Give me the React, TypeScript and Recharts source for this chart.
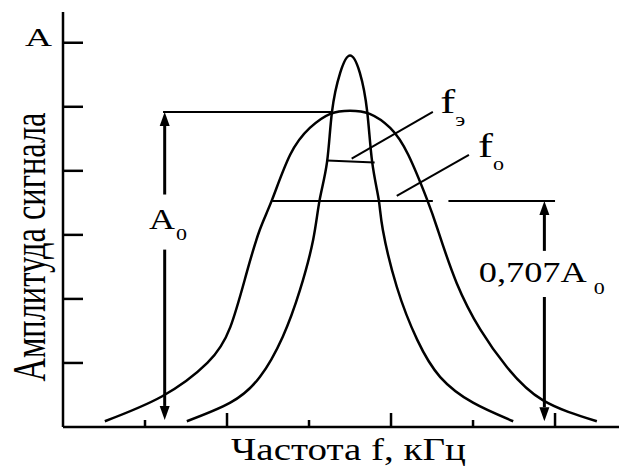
import React from 'react';
import { ComposedChart, Line, XAxis, YAxis, ReferenceLine, ReferenceDot, Label } from 'recharts';

// axis ticks (relative units)
const freqTicks = [1, 2, 3, 4, 5, 6];
const majorFreqTicks = [2, 4, 6];
const ampTicks = [1, 2, 3, 4, 5, 6];
const ampTickLabels = ['', '', '', '', '', 'A'];

// wide response curve (f_o)
const wideFreq = [0.51, 1.21, 1.76, 2.04, 2.24, 2.4, 2.55, 2.77, 3.01, 3.26, 3.5, 3.74, 3.99, 4.21, 4.44, 4.57, 4.8, 5.09, 5.41, 5.85, 6.51];
const wideAmp = [0.09, 0.48, 1.0, 1.56, 2.41, 3.08, 3.55, 4.25, 4.67, 4.89, 4.94, 4.89, 4.67, 4.25, 3.55, 3.08, 2.25, 1.52, 0.94, 0.42, 0.09];

// narrow response curve (f_э)
const narrowFreq = [1.51, 2.04, 2.4, 2.68, 2.89, 3.05, 3.13, 3.22, 3.28, 3.38, 3.5, 3.62, 3.71, 3.77, 3.85, 3.9, 4.07, 4.32, 4.6, 5.0, 5.49];
const narrowAmp = [0.09, 0.38, 0.78, 1.41, 2.14, 2.92, 3.55, 4.14, 4.92, 5.53, 5.8, 5.53, 4.92, 4.14, 3.55, 3.08, 2.19, 1.36, 0.78, 0.38, 0.09];

// annotation levels
const levelA0 = 4.92;
const level707 = 3.53;
const a0ArrowX = 1.24;
const a0Span = [1.22, 3.28];
const a0ArrowBreak = [3.63, 2.77, 0.11];
const level707Spans = [[2.55, 4.51], [4.7, 6.0]];
const rightArrowX = 5.87;
const rightArrowBreak = [2.75, 2.03, 0.09];
const feBar = [[3.22, 4.16], [3.8, 4.13]];
const feLeader = [[3.52, 4.19], [4.51, 4.92]];
const foLeader = [[4.07, 3.61], [4.95, 4.25]];

const wideData = wideFreq.map((freq, i) => ({ freq, amp: wideAmp[i] }));
const narrowData = narrowFreq.map((freq, i) => ({ freq, amp: narrowAmp[i] }));

const FONT = 'Liberation Serif, serif';

const Arrow = (props: any) => {
  const { x1, y1, x2, y2 } = props;
  const len = Math.hypot(x2 - x1, y2 - y1) || 1;
  const ux = (x2 - x1) / len;
  const uy = (y2 - y1) / len;
  const hl = 14;
  const hw = 5;
  const bx = x2 - ux * hl;
  const by = y2 - uy * hl;
  const pts = `${x2},${y2} ${bx - uy * hw},${by + ux * hw} ${bx + uy * hw},${by - ux * hw}`;
  return (
    <g>
      <line x1={x1} y1={y1} x2={bx} y2={by} stroke="#000" strokeWidth={3} />
      <polygon points={pts} fill="#000" />
    </g>
  );
};

// the source figure is stretched horizontally, so every text gets a fixed length
const subLabel = (
  main: string, sub: string, size: number, subSize: number,
  subDx: number, subDy: number, len: number, subLen: number,
) =>
  (p: any) => (
    <g>
      <text x={p.cx} y={p.cy} fontFamily={FONT} fontSize={size} fill="#000" textLength={len} lengthAdjust="spacingAndGlyphs">
        {main}
      </text>
      <text
        x={p.cx + subDx}
        y={p.cy + subDy}
        fontFamily={FONT}
        fontSize={subSize}
        fill="#000"
        textLength={subLen}
        lengthAdjust="spacingAndGlyphs"
      >
        {sub}
      </text>
    </g>
  );

const YTick = (p: any) => {
  const idx = ampTicks.indexOf(p.payload.value);
  const label = ampTickLabels[idx];
  return (
    <g>
      <line x1={p.x} y1={p.y} x2={p.x + 20} y2={p.y} stroke="#000" strokeWidth={2.5} />
      {label && (
        <text x={p.x - 38} y={p.y + 3} fontFamily={FONT} fontSize={26} fill="#000" textLength={27} lengthAdjust="spacingAndGlyphs">
          {label}
        </text>
      )}
    </g>
  );
};

const XTick = (p: any) => {
  const h = majorFreqTicks.includes(p.payload.value) ? 14 : 7;
  return <line x1={p.x} y1={p.y} x2={p.x} y2={p.y - h} stroke="#000" strokeWidth={2.5} />;
};

const seg = { stroke: '#000', strokeWidth: 2 };

export default function App() {
  return (
    <div style={{ position: 'absolute', left: 0, top: 0, background: '#fff' }}>
      <ComposedChart width={619} height={466} margin={{ top: 12, right: 0, bottom: 0, left: 0 }}>
        <XAxis
          type="number"
          dataKey="freq"
          domain={[0, 6.78]}
          ticks={freqTicks}
          allowDataOverflow
          height={39}
          tickSize={0}
          tickMargin={0}
          tickLine={false}
          tick={<XTick />}
          axisLine={{ stroke: '#000', strokeWidth: 2.5 }}
        >
          <Label
            content={(p: any) => (
              <text
                x={p.viewBox.x + 168}
                y={p.viewBox.y + 33}
                fontFamily={FONT}
                fontSize={31}
                fill="#000"
                textLength={235}
                lengthAdjust="spacingAndGlyphs"
              >
                Частота f, кГц
              </text>
            )}
          />
        </XAxis>
        <YAxis
          type="number"
          domain={[0, 6.48]}
          ticks={ampTicks}
          allowDataOverflow
          width={63}
          tickSize={0}
          tickMargin={0}
          tickLine={false}
          tick={<YTick />}
          axisLine={{ stroke: '#000', strokeWidth: 2.5 }}
        >
          <Label
            content={() => (
              <text
                x={45}
                y={247}
                transform="rotate(-90, 45, 247)"
                textAnchor="middle"
                fontFamily={FONT}
                fontSize={46}
                textLength={269}
                lengthAdjust="spacingAndGlyphs"
                fill="#000"
              >
                Амплитуда сигнала
              </text>
            )}
          />
        </YAxis>

        <Line data={wideData} dataKey="amp" type="natural" stroke="#000" strokeWidth={2.5} dot={false} isAnimationActive={false} />
        <Line data={narrowData} dataKey="amp" type="natural" stroke="#000" strokeWidth={2.5} dot={false} isAnimationActive={false} />

        {/* A0 level and arrow */}
        <ReferenceLine segment={[{ x: a0Span[0], y: levelA0 }, { x: a0Span[1], y: levelA0 }]} {...seg} />
        <ReferenceLine segment={[{ x: a0ArrowX, y: a0ArrowBreak[0] }, { x: a0ArrowX, y: levelA0 }]} shape={Arrow} />
        <ReferenceLine segment={[{ x: a0ArrowX, y: a0ArrowBreak[1] }, { x: a0ArrowX, y: a0ArrowBreak[2] }]} shape={Arrow} />
        <ReferenceDot x={1.05} y={3.09} r={0} shape={subLabel('A', '0', 29, 16, 27, 11, 26, 11)} />

        {/* 0,707 A0 level and arrow */}
        {level707Spans.map((s, i) => (
          <ReferenceLine key={i} segment={[{ x: s[0], y: level707 }, { x: s[1], y: level707 }]} {...seg} />
        ))}
        <ReferenceLine segment={[{ x: rightArrowX, y: rightArrowBreak[0] }, { x: rightArrowX, y: level707 }]} shape={Arrow} />
        <ReferenceLine segment={[{ x: rightArrowX, y: rightArrowBreak[1] }, { x: rightArrowX, y: rightArrowBreak[2] }]} shape={Arrow} />
        <ReferenceDot x={5.07} y={2.27} r={0} shape={subLabel('0,707A', '0', 29, 16, 115, 12, 108, 11)} />

        {/* bandwidth markers */}
        <ReferenceLine segment={[{ x: feBar[0][0], y: feBar[0][1] }, { x: feBar[1][0], y: feBar[1][1] }]} {...seg} />
        <ReferenceLine segment={[{ x: feLeader[0][0], y: feLeader[0][1] }, { x: feLeader[1][0], y: feLeader[1][1] }]} {...seg} />
        <ReferenceLine segment={[{ x: foLeader[0][0], y: foLeader[0][1] }, { x: foLeader[1][0], y: foLeader[1][1] }]} {...seg} />
        <ReferenceDot x={4.6} y={4.91} r={0} shape={subLabel('f', 'э', 33, 18, 15, 13, 15, 10)} />
        <ReferenceDot x={5.06} y={4.22} r={0} shape={subLabel('f', 'o', 33, 18, 15, 13, 15, 11)} />
      </ComposedChart>
    </div>
  );
}
